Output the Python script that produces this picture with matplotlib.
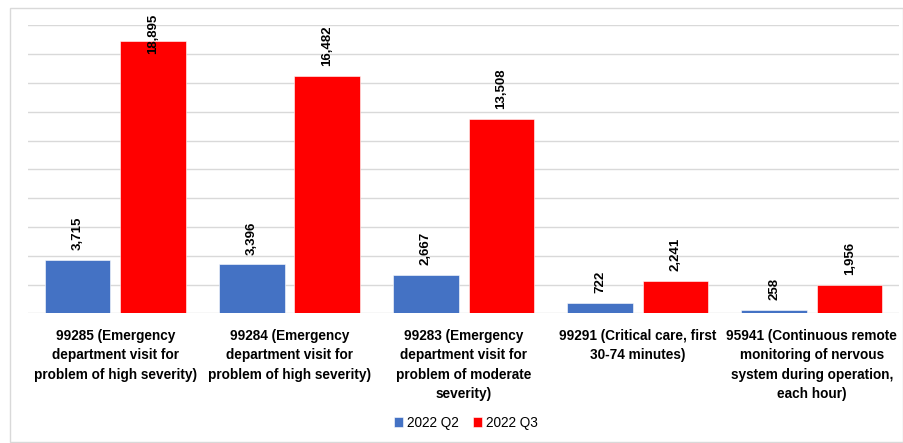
import matplotlib
matplotlib.use("Agg")
from matplotlib import pyplot as plt
from matplotlib.patches import Rectangle
import numpy as np

# Dati
categorie = [
    "99285 (Emergency\ndepartment visit for\nproblem of high severity)",
    "99284 (Emergency\ndepartment visit for\nproblem of high severity)",
    "99283 (Emergency\ndepartment visit for\nproblem of moderate\nseverity)",
    "99291 (Critical care, first\n30-74 minutes)",
    "95941 (Continuous remote\nmonitoring of nervous\nsystem during operation,\neach hour)",
]
serie_nomi = ["2022 Q2", "2022 Q3"]
q2 = [3715, 3396, 2667, 722, 258]
q3 = [18895, 16482, 13508, 2241, 1956]
colori = ["#4472C4", "#FF0000"]

plt.rcParams['font.family'] = ['Liberation Sans', 'DejaVu Sans']

fig = plt.figure(figsize=(9.04, 4.43), dpi=100)
# bordo esterno del grafico
fig.patches.append(Rectangle((10 / 904, 1 / 443), 893 / 904, 434 / 443,
                             transform=fig.transFigure, fill=False,
                             edgecolor="#D9D9D9", linewidth=1.0))

ax = fig.add_axes([28.3 / 904, 129.7 / 443, 870.7 / 904, 288.0 / 443])

x = np.arange(len(categorie))
larghezza = 0.376
spazio = 0.057
ymax = 20000

for serie, valori, colore, sgn in [(serie_nomi[0], q2, colori[0], -1), (serie_nomi[1], q3, colori[1], 1)]:
    pos = x + sgn * (larghezza + spazio) / 2
    ax.bar(pos, valori, width=larghezza, color=colore, label=serie,
           edgecolor="white", linewidth=0.4, zorder=3)
    for xi, v in zip(pos, valori):
        if v > 0.9 * ymax:
            # etichetta troppo alta: viene spinta in basso dentro l'area del grafico
            ax.annotate(f"{v:,}", (xi, ymax), xytext=(0, 8), textcoords="offset points",
                        rotation=90, ha="center", va="top", fontsize=9.5,
                        fontweight="bold", annotation_clip=False, zorder=4)
        else:
            ax.annotate(f"{v:,}", (xi, v), xytext=(0, 7), textcoords="offset points",
                        rotation=90, ha="center", va="bottom", fontsize=9.5,
                        fontweight="bold", zorder=4)

ax.set_xlim(-0.5, len(categorie) - 0.5)
ax.set_ylim(0, ymax)
ax.set_yticks(np.arange(0, ymax + 1, 2000))
ax.set_yticklabels([])
ax.tick_params(axis="y", length=0)
ax.grid(axis="y", color="#D9D9D9", linewidth=1.0, zorder=0)
for s in ax.spines.values():
    s.set_visible(False)

ax.set_xticks(x)
ax.set_xticklabels(categorie, fontsize=9.8, fontweight="bold", linespacing=1.5)
ax.tick_params(axis="x", length=0, pad=11)

ax.legend(loc="center", bbox_to_anchor=(466 / 904, 20 / 443), bbox_transform=fig.transFigure,
          ncol=2, frameon=False, fontsize=9.8, handlelength=0.7, handleheight=0.7,
          handletextpad=0.3, columnspacing=1.0)

plt.savefig("out.png", dpi=100)
